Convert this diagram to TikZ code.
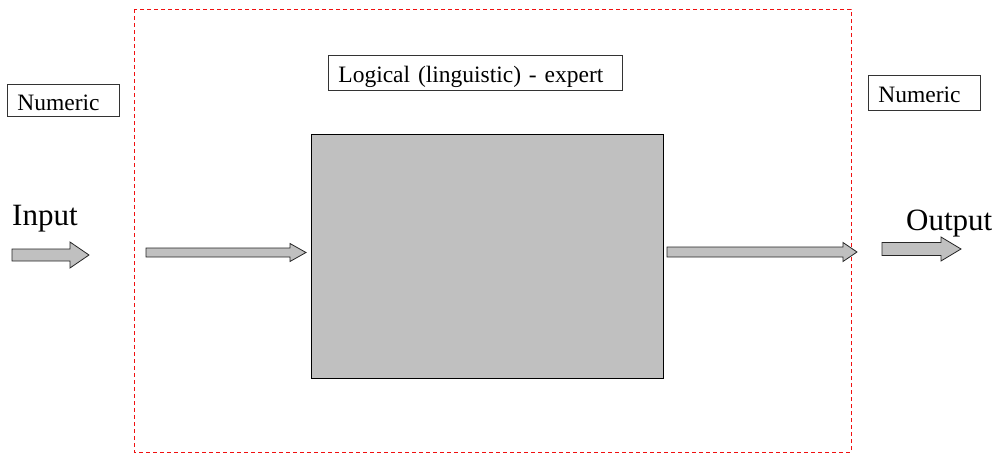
\documentclass[tikz,border=0pt]{standalone}
\usepackage{fontspec}
\setmainfont{Liberation Serif}
\newfontfamily\tnrfont{Liberation Serif}
\definecolor{boxgray}{HTML}{C0C0C0}
\definecolor{framered}{HTML}{F01010}
\newcommand\blockarr[6]{% x1, x2, xhead, ycenter, shaft half, head half
  \draw[barrow] (#1,#4-#5) -- (#3,#4-#5) -- (#3,#4-#6) -- (#2,#4) -- (#3,#4+#6) -- (#3,#4+#5) -- (#1,#4+#5) -- cycle;}
\tikzset{
  barrow/.style={fill=boxgray, draw=black!85, line width=0.8pt, line join=miter},
  labelbox/.style={draw=black!80, line width=0.8pt, anchor=north west, inner xsep=10pt, inner ysep=0pt, text height=22pt, text depth=2pt, align=left, font=\tnrfont\fontsize{23.5}{28}\selectfont},
  bigtext/.style={anchor=base west, inner sep=0pt, font=\tnrfont\fontsize{31}{36}\selectfont},
}
\begin{document}
\begin{tikzpicture}[x=1pt,y=-1pt]
\useasboundingbox (0,0) rectangle (1001,455);
% frame
\draw[framered, line width=1pt, dash pattern=on 4pt off 3pt] (134,9) rectangle (851,452);
% central block
\node[draw=black, line width=0.8pt, fill=boxgray, anchor=north west, minimum width=352pt, minimum height=244pt, inner sep=0pt] (expert) at (311,134) {};
% label boxes
\node[labelbox, minimum width=112pt, minimum height=32pt, text width=92pt] (numin) at (7,84) {Numeric};
\node[labelbox, minimum width=112pt, minimum height=35pt, text width=92pt] (numout) at (868,75) {Numeric};
\node[labelbox, minimum width=294pt, minimum height=35pt, text width=274pt] (logic) at (328,55) {Logical (linguistic) - expert};
% texts
\node[bigtext] (input) at (12,225) {Input};
\node[bigtext] (output) at (906,230) {Output};
% arrows
\blockarr{12}{89}{70}{255}{6}{13}
\blockarr{146}{306}{290}{252.5}{4.5}{9}
\blockarr{667}{857}{843}{252}{5}{9.5}
\blockarr{882}{961}{941}{249}{6.5}{12}
\end{tikzpicture}
\end{document}
